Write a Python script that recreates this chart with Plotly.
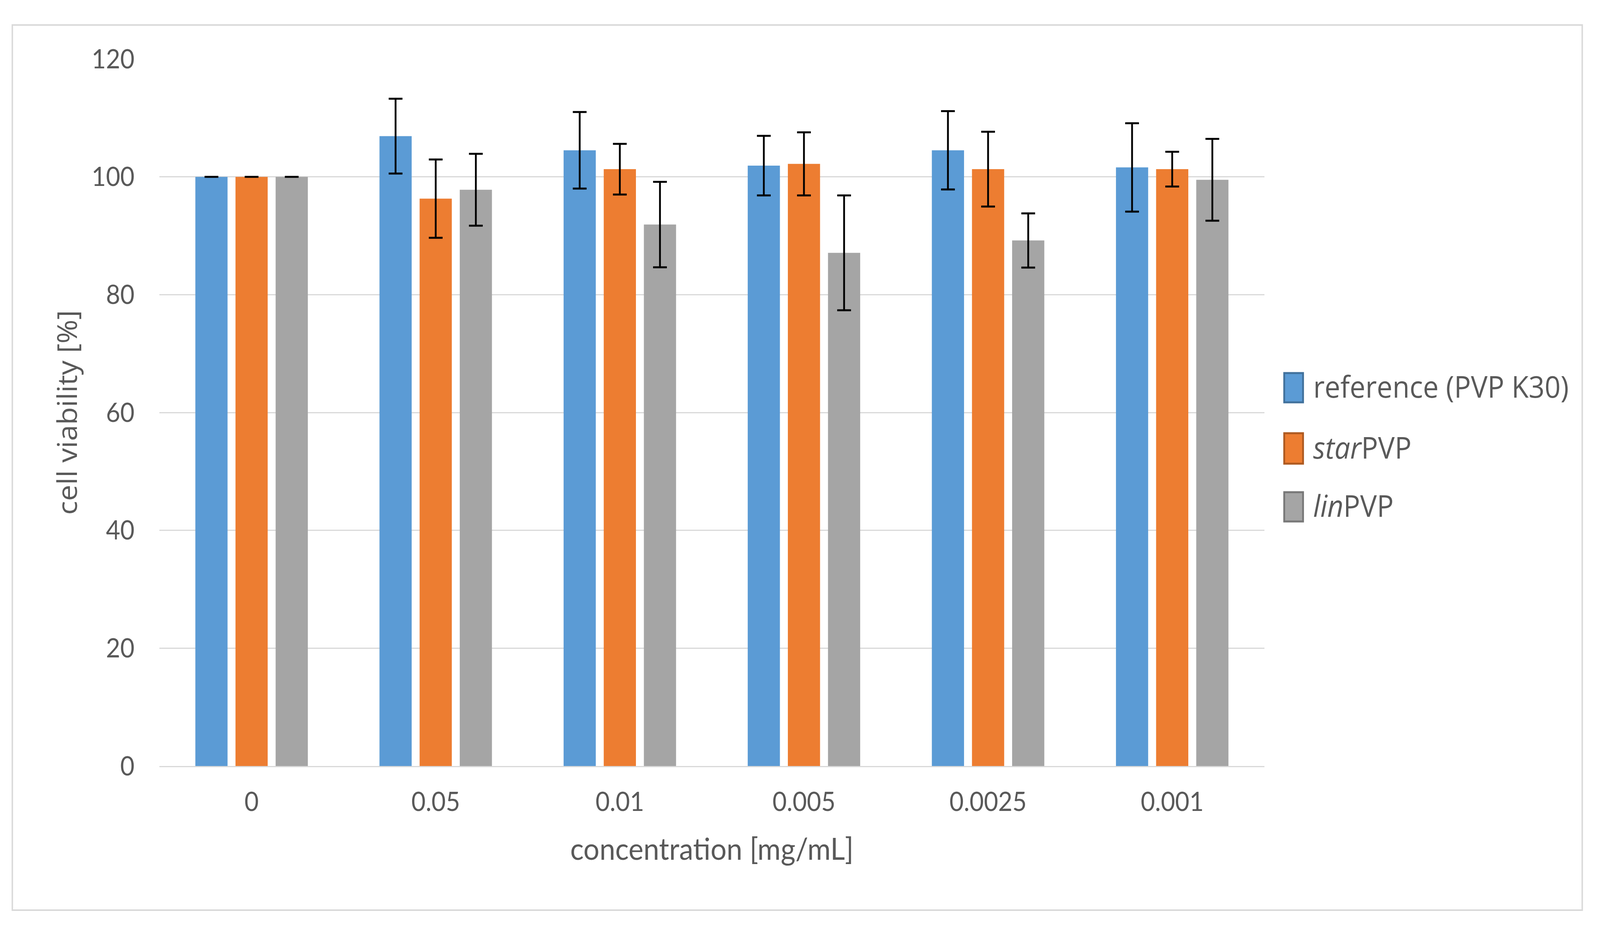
import plotly.graph_objects as go

categories = ["0", "0.05", "0.01", "0.005", "0.0025", "0.001"]
series_names = ["reference (PVP K30)", "<i>star</i>PVP", "<i>lin</i>PVP"]
reference_vals = [100, 106.9, 104.5, 101.9, 104.5, 101.6]
reference_err = [0, 6.35, 6.5, 5.05, 6.65, 7.5]
star_vals = [100, 96.3, 101.3, 102.2, 101.3, 101.3]
star_err = [0, 6.65, 4.3, 5.35, 6.35, 2.95]
lin_vals = [100, 97.8, 91.9, 87.1, 89.2, 99.5]
lin_err = [0, 6.1, 7.25, 9.75, 4.6, 6.95]
y_ticks = [0, 20, 40, 60, 80, 100, 120]

colors = ["#5B9BD5", "#ED7D31", "#A5A5A5"]
borders = ["#41719C", "#AE5A21", "#787878"]
text_color = "#595959"

W, H = 4413, 2368
L, R, T, B = 440, 3487, 151, 1961


def px(x):
    return (x - L) / (R - L)


def py(y):
    return (B - y) / (B - T)


fig = go.Figure()
for name, vals, errs, c in zip(series_names,
                               [reference_vals, star_vals, lin_vals],
                               [reference_err, star_err, lin_err], colors):
    fig.add_trace(go.Bar(
        x=categories, y=vals, name=name, marker=dict(color=c, line=dict(width=0)),
        error_y=dict(type="data", array=errs, visible=True, color="black",
                     thickness=5, width=19),
        showlegend=False,
    ))

shapes = [dict(type="rect", xref="paper", yref="paper",
               x0=px(34), x1=px(4364), y0=py(2330), y1=py(64),
               line=dict(color="#d9d9d9", width=4), fillcolor="rgba(0,0,0,0)", layer="below")]
annotations = []
leg_y = [(955, 1030), (1109, 1187), (1260, 1335)]
for (y0, y1), name, c, bc in zip(leg_y, series_names, colors, borders):
    shapes.append(dict(type="rect", xref="paper", yref="paper",
                       x0=px(3542), x1=px(3594), y0=py(y1), y1=py(y0),
                       fillcolor=c, line=dict(color=bc, width=5)))
    annotations.append(dict(xref="paper", yref="paper", x=px(3620), y=py((y0 + y1) / 2 - 4),
                            text=name, showarrow=False, xanchor="left", yanchor="middle",
                            font=dict(family="Open Sans", size=77, color=text_color)))

fig.update_layout(
    width=W, height=H,
    margin=dict(l=L, r=W - R, t=T, b=H - B, pad=0),
    paper_bgcolor="white", plot_bgcolor="white",
    barmode="group", bargap=0.346, bargroupgap=0.198,
    shapes=shapes, annotations=annotations,
    font=dict(family="Lato", color=text_color, size=68),
)
fig.update_xaxes(
    type="category", showgrid=False, showline=True, linecolor="#d9d9d9", linewidth=3,
    ticks="", tickfont=dict(family="Lato", size=68, color=text_color), ticklabelstandoff=30,
    title=dict(text="concentration [mg/mL]", font=dict(family="Lato", size=78, color=text_color),
               standoff=58),
)
fig.update_yaxes(
    range=[0, 120], tickvals=y_ticks, showgrid=True, gridcolor="#d9d9d9", gridwidth=3,
    zeroline=False, showline=False, ticks="",
    tickfont=dict(family="Lato", size=68, color=text_color), ticklabelstandoff=68,
    title=dict(text="cell viability [%]", font=dict(family="Open Sans", size=74, color=text_color),
               standoff=15),
)

# Fit the 4413x2368 figure to the actual browser viewport (which may be narrower).
post = """
(function(){
  var gd = document.getElementById('{plot_id}');
  var wrap = gd.parentElement;
  document.documentElement.style.margin = '0';
  document.documentElement.style.overflow = 'hidden';
  document.body.style.margin = '0';
  document.body.style.overflow = 'hidden';
  var sx = window.innerWidth / %d, sy = window.innerHeight / %d;
  wrap.style.width = window.innerWidth + 'px';
  wrap.style.height = window.innerHeight + 'px';
  wrap.style.overflow = 'hidden';
  gd.style.transformOrigin = '0 0';
  gd.style.transform = 'scale(' + sx + ',' + sy + ')';
})();
""" % (W, H)
fig.write_html("out.html", post_script=post, config={"displayModeBar": False})
